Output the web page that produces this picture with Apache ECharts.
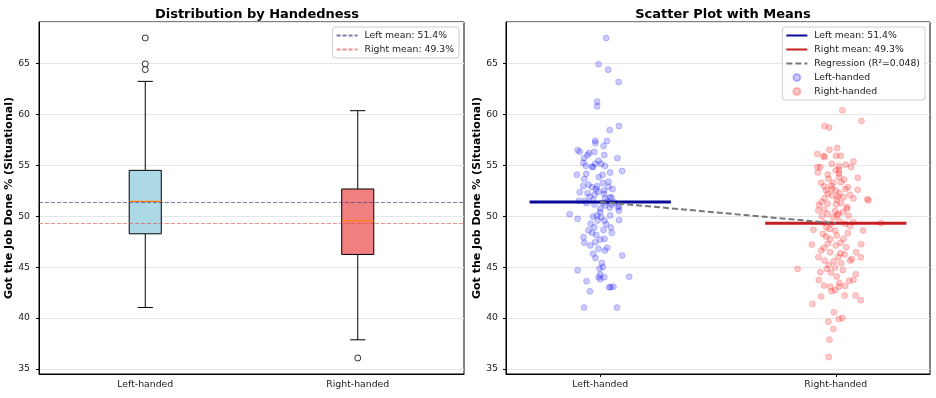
<!DOCTYPE html>
<html>
<head>
<meta charset="utf-8">
<script src="https://cdn.jsdelivr.net/npm/echarts@6/dist/echarts.min.js"></script>
<style>
  html, body { margin: 0; padding: 0; background: #fff; }
  #chart { width: 936px; height: 398px; }
</style>
</head>
<body>
<div id="chart"></div>
<script>
// data
const groups = ['Left-handed', 'Right-handed']
// min whisker, q1, median, q3, max whisker
const boxStats = [
  [41.03, 48.27, 51.45, 54.5, 63.24],
  [37.86, 46.24, 49.57, 52.67, 60.36]
]
const outliers = [[0, 67.5], [0, 64.95], [0, 64.4], [1, 36.07]]
const means = [51.4, 49.3]
const rSquared = 0.048

// jitter offsets (category units) and values for the scatter
const leftOffsets = [0.025, -0.007, 0.034, 0.078, -0.013, -0.013, 0.040, 0.080, -0.096, -0.087,
  -0.021, -0.021, 0.028, 0.014, 0.017, -0.047, -0.054, -0.025, -0.069, 0.073,
  -0.072, -0.007, -0.021, 0.004, -0.061, 0.020, -0.035, -0.031, 0.093, -0.099,
  -0.059, 0.042, 0.010, -0.068, -0.006, 0.035, 0.011, -0.072, -0.013, -0.035,
  0.052, 0.016, -0.018, 0.016, -0.087, -0.054, -0.024, 0.042, 0.048, 0.021,
  -0.090, -0.065, -0.058, -0.025, 0.021, 0.049, 0.079, 0.000, 0.077, 0.040,
  -0.130, -0.096, -0.014, 0.004, 0.042, 0.079, 0.080, -0.040, -0.011, 0.018,
  -0.025, -0.034, 0.045, 0.049, 0.014, -0.071, -0.017, 0.018, 0.000, -0.068,
  -0.021, -0.042, -0.007, 0.020, 0.093, -0.096, 0.007, 0.011, -0.003, 0.000,
  -0.007, 0.017, 0.000, 0.123, -0.058, 0.038, 0.044, 0.056, -0.044, -0.069,
  0.071, -0.030, 0.010, 0.030, -0.045, 0.060, -0.010, 0.035, -0.050, 0.000,
  -0.030, 0.025, -0.050, 0.030, -0.020, -0.030]
const leftValues = [67.5, 64.92, 64.39, 63.18, 61.25, 60.79, 58.46, 58.85, 56.49, 56.33,
  57.41, 57.18, 57.38, 56.89, 56.0, 56.2, 56.0, 56.3, 55.7, 55.7,
  55.25, 55.44, 55.15, 55.15, 54.95, 54.92, 54.86, 54.82, 54.43, 54.06,
  54.16, 54.29, 54.06, 53.64, 53.84, 53.38, 53.25, 52.95, 52.95, 52.85,
  52.66, 52.53, 52.66, 52.2, 52.36, 52.26, 52.13, 51.87, 51.8, 51.75,
  51.5, 51.5, 51.28, 51.15, 51.05, 51.15, 50.99, 50.72, 50.85, 50.82,
  50.2, 49.74, 50.07, 49.9, 50.07, 50.53, 49.61, 49.25, 49.57, 49.57,
  48.92, 48.36, 48.89, 48.36, 48.65, 47.93, 48.16, 47.77, 47.7, 47.38,
  47.44, 47.12, 46.79, 46.63, 46.14, 44.69, 45.41, 44.98, 44.85, 44.26,
  44.01, 44.01, 43.8, 44.04, 43.61, 43.02, 43.02, 43.08, 42.62, 41.02,
  41.02, 51.6, 51.3, 51.45, 51.9, 51.35, 52.4, 52.9, 53.1, 50.4,
  49.95, 49.2, 48.6, 46.9, 45.9, 46.3]

const rightOffsets = [0.028, 0.109, -0.048, -0.028, -0.078, -0.027, 0.006, -0.052, 0.001, 0.021,
  -0.017, 0.042, 0.075, -0.048, -0.078, -0.066, 0.014, 0.014, 0.014, 0.014,
  0.065, -0.076, -0.034, -0.031, 0.093, -0.062, -0.010, 0.023, -0.049, -0.016,
  0.000, 0.041, 0.051, -0.041, 0.093, -0.034, 0.016, -0.016, 0.033, 0.075,
  0.134, -0.048, 0.004, -0.072, -0.035, 0.001, 0.023, 0.048, 0.139, -0.074,
  -0.050, -0.003, 0.011, 0.047, -0.059, 0.006, 0.054, -0.035, -0.050, -0.020,
  0.016, 0.040, 0.075, -0.027, -0.095, -0.055, -0.003, 0.051, 0.116, 0.192,
  -0.041, 0.004, -0.024, 0.033, -0.102, -0.034, 0.000, 0.044, 0.108, -0.062,
  -0.024, 0.020, 0.086, -0.074, 0.037, 0.068, 0.106, -0.048, -0.008, 0.023,
  0.061, -0.162, -0.066, -0.038, -0.020, -0.003, -0.072, 0.004, 0.016, 0.057,
  0.075, 0.085, -0.050, -0.024, 0.014, 0.040, -0.003, -0.018, -0.062, 0.037,
  0.084, 0.106, -0.099, -0.008, -0.031, 0.013, 0.028, -0.010, -0.027, -0.030,
  0.010, -0.060, 0.030, -0.010, 0.060, -0.040, 0.020, -0.050, 0.010, 0.030,
  -0.030, 0.060, -0.020, 0.035, 0.000]
const rightValues = [60.4, 59.35, 58.85, 58.69, 56.1, 56.53, 56.69, 55.9, 55.94, 55.94,
  55.15, 55.05, 55.38, 55.8, 54.82, 54.82, 54.92, 54.56, 54.2, 53.84,
  54.82, 54.29, 54.1, 53.67, 53.77, 53.28, 53.31, 53.34, 52.92, 52.69,
  52.53, 52.66, 52.85, 52.53, 52.59, 52.2, 52.26, 52.03, 51.87, 51.74,
  51.67, 51.77, 51.64, 51.09, 51.22, 51.15, 51.28, 50.89, 51.54, 50.56,
  50.66, 50.5, 50.23, 50.72, 50.0, 50.07, 50.03, 50.23, 49.35, 49.25,
  49.51, 49.25, 49.41, 48.75, 48.66, 48.26, 48.59, 48.33, 48.6, 49.31,
  48.0, 48.1, 47.74, 47.77, 47.21, 47.28, 47.12, 46.95, 47.24, 46.62,
  46.46, 46.36, 46.46, 45.97, 46.23, 45.8, 45.97, 45.64, 45.58, 45.38,
  45.64, 44.82, 44.49, 44.82, 44.46, 44.95, 43.74, 44.07, 43.44, 43.67,
  43.74, 44.3, 43.18, 43.08, 43.08, 43.15, 42.75, 42.62, 42.1, 42.2,
  42.2, 41.74, 41.38, 40.56, 39.64, 39.9, 40.0, 38.92, 37.87, 36.16,
  51.9, 51.4, 50.4, 49.9, 49.0, 48.9, 47.4, 46.9, 46.0, 44.7,
  45.2, 52.1, 53.0, 53.6, 54.5]

const yLabel = 'Got the Job Done % (Situational)'
const leftMeanLabel = 'Left mean: ' + means[0] + '%'
const rightMeanLabel = 'Right mean: ' + means[1] + '%'
const regLabel = 'Regression (R\u00b2=' + rSquared + ')'

const font = 'DejaVu Sans'
const boxColors = ['#add8e6', '#f08080']

function yAxis(gridIndex, margin){
  return {
    type: 'value', gridIndex: gridIndex, min: 34.5, max: 69.07, splitNumber: 7,
    name: yLabel, nameLocation: 'middle', nameGap: 23,
    nameTextStyle: {fontFamily: font, fontSize: 11, fontWeight: 'bold', color: '#000'},
    axisLine: {show: true, onZero: false, lineStyle: {color: '#000', width: 1}},
    axisTick: {show: true, length: 3, lineStyle: {color: '#000'}},
    axisLabel: {showMinLabel: false, showMaxLabel: false, fontFamily: font, fontSize: 9.3, color: '#222', margin: margin},
    splitLine: {show: true, lineStyle: {color: '#e6e6e6', width: 1}}
  }
}

function renderBox(params, api){
  let i = api.value(0)
  let band = api.size([1, 0])[0]
  let half = band * 0.0755, cap = band * 0.036
  let x = api.coord([i, 0])[0]
  let ys = [1, 2, 3, 4, 5].map(k => api.coord([i, api.value(k)])[1])
  let line = (x1, y1, x2, y2, stroke, w) => ({type: 'line', shape: {x1, y1, x2, y2}, style: {stroke: stroke, lineWidth: w}})
  return {
    type: 'group',
    children: [
      line(x, ys[1], x, ys[0], '#000', 1),
      line(x, ys[3], x, ys[4], '#000', 1),
      line(x - cap, ys[0], x + cap, ys[0], '#000', 1),
      line(x - cap, ys[4], x + cap, ys[4], '#000', 1),
      {type: 'rect', shape: {x: x - half, y: ys[3], width: half * 2, height: ys[1] - ys[3]},
        style: {fill: boxColors[i], stroke: '#000', lineWidth: 1}},
      line(x - half, ys[2], x + half, ys[2], '#ff7f0e', 1.2)
    ]
  }
}

// line entries in the legends: no marker, just the line
let lineItem = name => ({name: name, itemStyle: {opacity: 0}})

let legendBase = {
  orient: 'vertical', top: 27, itemWidth: 21, itemHeight: 7, itemGap: 3,
  padding: [3, 5, 3, 3],
  backgroundColor: 'rgba(255,255,255,0.85)', borderColor: '#cccccc', borderWidth: 1, borderRadius: 3,
  textStyle: {fontFamily: font, fontSize: 9.3, color: '#222', lineHeight: 11, padding: [0, 0, 0, 2]}
}

let leftDash = {type: [4, 2], color: 'rgba(50,50,130,0.65)', width: 1}
let rightDash = {type: [4, 2], color: 'rgba(225,70,70,0.6)', width: 1}

let option = {
  animation: false,
  backgroundColor: '#fff',
  textStyle: {fontFamily: font},
  title: [
    {text: 'Distribution by Handedness', left: 252, top: 3, textAlign: 'center',
      textStyle: {fontFamily: font, fontSize: 13, fontWeight: 'bold', color: '#000'}},
    {text: 'Scatter Plot with Means', left: 718, top: 3, textAlign: 'center',
      textStyle: {fontFamily: font, fontSize: 13, fontWeight: 'bold', color: '#000'}}
  ],
  grid: [
    {left: 39, top: 22, width: 425, height: 352, show: true, borderColor: '#000', borderWidth: 1},
    {left: 506, top: 22, width: 424, height: 352, show: true, borderColor: '#000', borderWidth: 1}
  ],
  legend: [
    Object.assign({}, legendBase, {
      right: 477,
      data: [lineItem('boxLeftMean'), lineItem('boxRightMean')],
      formatter: n => n == 'boxLeftMean' ? leftMeanLabel : rightMeanLabel
    }),
    Object.assign({}, legendBase, {
      right: 11,
      data: [lineItem(leftMeanLabel), lineItem(rightMeanLabel), lineItem(regLabel), 'Left-handed', 'Right-handed']
    })
  ],
  xAxis: [
    {type: 'category', gridIndex: 0, data: groups,
      axisLine: {lineStyle: {color: '#000', width: 1}},
      axisTick: {alignWithLabel: true, length: 3, lineStyle: {color: '#000'}},
      axisLabel: {fontFamily: font, fontSize: 9.3, color: '#222', margin: 6},
      splitLine: {show: false}},
    {type: 'value', gridIndex: 1, min: -0.4, max: 1.4,
      axisLine: {onZero: false, lineStyle: {color: '#000', width: 1}},
      axisTick: {length: 3, lineStyle: {color: '#000'}, customValues: [0, 1]},
      axisLabel: {fontFamily: font, fontSize: 9.3, color: '#222', margin: 6, customValues: [0, 1],
        formatter: v => groups[Math.round(v)]},
      splitLine: {show: false}}
  ],
  yAxis: [yAxis(0, 9), yAxis(1, 8)],
  series: [
    {type: 'custom', xAxisIndex: 0, yAxisIndex: 0, renderItem: renderBox, z: 2,
      data: boxStats.map((s, i) => [i].concat(s)), encode: {x: 0, y: [1, 2, 3, 4, 5]}},
    {type: 'scatter', xAxisIndex: 0, yAxisIndex: 0, data: outliers, symbol: 'circle', symbolSize: 6, z: 3,
      itemStyle: {color: '#fff', borderColor: '#000', borderWidth: 1}},
    {type: 'line', name: 'boxLeftMean', xAxisIndex: 0, yAxisIndex: 0, data: [], symbol: 'none', z: 4,
      lineStyle: leftDash,
      markLine: {silent: true, symbol: 'none', label: {show: false}, lineStyle: leftDash, data: [{yAxis: means[0]}]}},
    {type: 'line', name: 'boxRightMean', xAxisIndex: 0, yAxisIndex: 0, data: [], symbol: 'none', z: 4,
      lineStyle: rightDash,
      markLine: {silent: true, symbol: 'none', label: {show: false}, lineStyle: rightDash, data: [{yAxis: means[1]}]}},

    {type: 'scatter', name: 'Left-handed', xAxisIndex: 1, yAxisIndex: 1, symbolSize: 6, z: 2,
      data: leftOffsets.map((o, i) => [o, leftValues[i]]),
      itemStyle: {color: 'rgba(0,0,255,0.26)', borderColor: 'rgba(0,0,255,0.3)', borderWidth: 0.8}},
    {type: 'scatter', name: 'Right-handed', xAxisIndex: 1, yAxisIndex: 1, symbolSize: 6, z: 2,
      data: rightOffsets.map((o, i) => [1 + o, rightValues[i]]),
      itemStyle: {color: 'rgba(255,0,0,0.26)', borderColor: 'rgba(255,0,0,0.3)', borderWidth: 0.8}},
    {type: 'line', name: leftMeanLabel, xAxisIndex: 1, yAxisIndex: 1, symbol: 'none', z: 4,
      data: [[-0.3, means[0]], [0.3, means[0]]],
      lineStyle: {color: '#0a0a9c', width: 3}},
    {type: 'line', name: rightMeanLabel, xAxisIndex: 1, yAxisIndex: 1, symbol: 'none', z: 4,
      data: [[0.7, means[1]], [1.3, means[1]]],
      lineStyle: {color: '#c41e1e', width: 3}},
    {type: 'line', name: regLabel, xAxisIndex: 1, yAxisIndex: 1, symbol: 'none', z: 5,
      data: [[0, means[0]], [1, means[1]]],
      lineStyle: {color: '#777', width: 2, type: [6, 3]}}
  ]
}

let myChart = echarts.init(document.getElementById('chart'))
myChart.setOption(option)
window.onresize = myChart.resize
</script>
</body>
</html>
